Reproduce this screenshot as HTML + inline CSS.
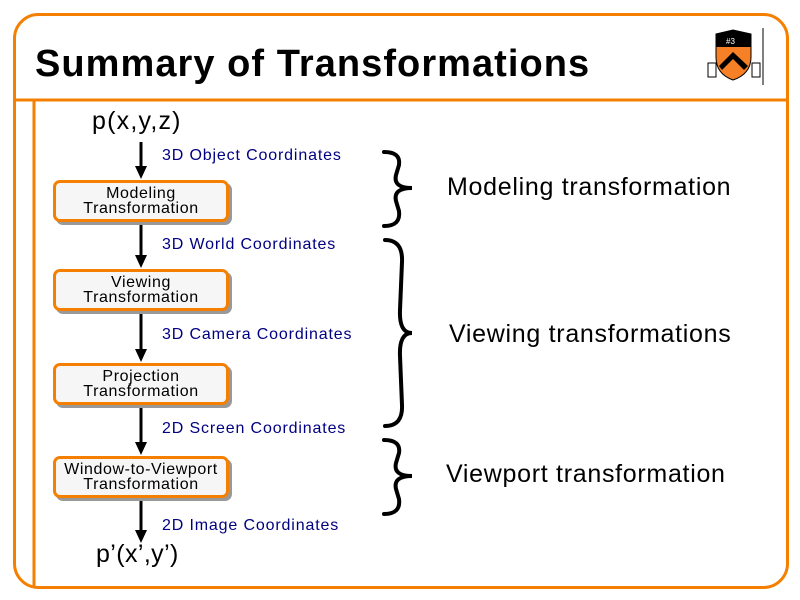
<!DOCTYPE html>
<html><head><meta charset="utf-8"><style>
html,body{margin:0;padding:0;background:#fff;}
body{width:800px;height:600px;position:relative;overflow:hidden;font-family:"Liberation Sans",sans-serif;}
.t{position:absolute;white-space:nowrap;}
.box{position:absolute;left:53px;width:170px;height:36px;border:3px solid #f57f00;border-radius:7px;background:#f6f6f6;box-shadow:3px 3px 0 #999;text-align:center;font-size:16px;line-height:15px;color:#000;letter-spacing:0.6px;}
.box div{padding-top:3px;margin-left:-10px;margin-right:-10px;}
.lbl{position:absolute;left:162px;font-size:16px;color:#000080;white-space:nowrap;line-height:18px;letter-spacing:0.85px;}
.big{position:absolute;font-size:25px;white-space:nowrap;line-height:28px;letter-spacing:0.7px;}
</style></head><body>
<svg width="800" height="600" style="position:absolute;left:0;top:0">
  <rect x="14.5" y="14.5" width="773" height="573" rx="24" fill="none" stroke="#f57f00" stroke-width="3"/>
  <line x1="14" y1="100" x2="788" y2="100" stroke="#f57f00" stroke-width="3"/>
  <line x1="34" y1="100" x2="34" y2="588" stroke="#f57f00" stroke-width="3"/>
  <g stroke="#000" stroke-width="3">
    <line x1="141" y1="142" x2="141" y2="168"/>
    <line x1="141" y1="224" x2="141" y2="257"/>
    <line x1="141" y1="313" x2="141" y2="351"/>
    <line x1="141" y1="407" x2="141" y2="444"/>
    <line x1="141" y1="501" x2="141" y2="532"/>
  </g>
  <g fill="#000">
    <polygon points="135,166 147,166 141,179"/>
    <polygon points="135,255 147,255 141,268"/>
    <polygon points="135,349 147,349 141,362"/>
    <polygon points="135,442 147,442 141,455"/>
    <polygon points="135,530 147,530 141,543"/>
  </g>
  <g fill="none" stroke="#000" stroke-width="4" stroke-linecap="round">
    <path d="M384,152 Q401,152 399,165 L396,175 Q393,188 412,188 Q393,188 396,201 L399,211 Q401,226 384,226"/>
    <path d="M385,240 Q403,240 402,262 L400,310 Q399,333 412,333 Q399,333 400,356 L402,405 Q403,426 385,426"/>
    <path d="M384,440 Q401,440 399,453 L396,463 Q393,476 412,476 Q393,476 396,489 L399,499 Q401,514 384,514"/>
  </g>
  <line x1="763" y1="28" x2="763" y2="85" stroke="#000" stroke-width="1"/>
  <path d="M716,34 L733,30 L751,34 L751,57 Q751,74 733,80 Q716,74 716,57 Z" fill="#f58025" stroke="#000" stroke-width="1"/>
  <path d="M716,34 L733,30 L751,34 L751,47 L716,47 Z" fill="#000"/>
  <path d="M719,66 L733,52 L748,66 L744,70 L733,59 L722,70 Z" fill="#000"/>
  <text x="726" y="44" font-size="8" fill="#fff" font-family="Liberation Sans">#3</text>
  <rect x="708" y="63" width="8" height="14" fill="none" stroke="#000" stroke-width="1"/>
  <rect x="752" y="63" width="8" height="14" fill="none" stroke="#000" stroke-width="1"/>
</svg>
<div class="t" style="left:35px;top:42px;font-size:38px;font-weight:bold;line-height:44px;letter-spacing:1.05px;">Summary of Transformations</div>
<div class="big" style="left:92px;top:107px;letter-spacing:1.2px;">p(x,y,z)</div>
<div class="big" style="left:96px;top:540px;letter-spacing:0.4px;">p’(x’,y’)</div>
<div class="lbl" style="top:147px;">3D Object Coordinates</div>
<div class="lbl" style="top:236px;">3D World Coordinates</div>
<div class="lbl" style="top:326px;">3D Camera Coordinates</div>
<div class="lbl" style="top:420px;">2D Screen Coordinates</div>
<div class="lbl" style="top:517px;">2D Image Coordinates</div>
<div class="box" style="top:180px;"><div>Modeling<br>Transformation</div></div>
<div class="box" style="top:269px;"><div>Viewing<br>Transformation</div></div>
<div class="box" style="top:363px;"><div>Projection<br>Transformation</div></div>
<div class="box" style="top:456px;"><div>Window-to-Viewport<br>Transformation</div></div>
<div class="big" style="left:447px;top:173px;">Modeling transformation</div>
<div class="big" style="left:449px;top:320px;">Viewing transformations</div>
<div class="big" style="left:446px;top:460px;">Viewport transformation</div>
</body></html>
